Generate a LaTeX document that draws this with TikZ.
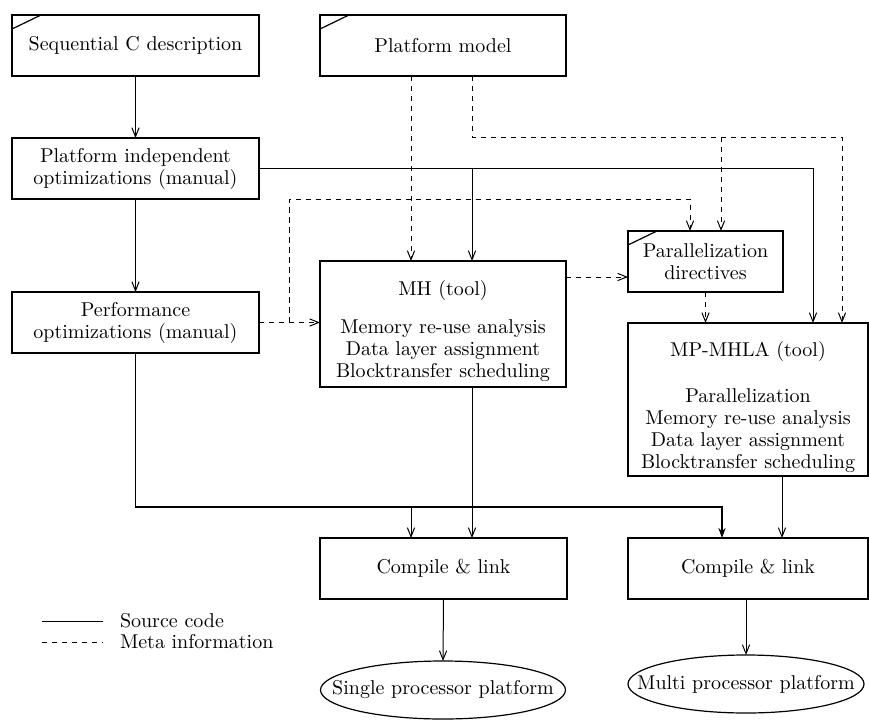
\documentclass[tikz,border=0pt]{standalone}
\usetikzlibrary{arrows.meta}
\begin{document}
\begin{tikzpicture}[x=0.5pt,y=-0.5pt,
  every node/.style={font=\fontsize{10}{11}\selectfont, align=center, inner sep=0pt, outer sep=0pt},
  box/.style={draw, line width=0.6pt, rectangle, minimum height=30.5pt},
  src/.style={line width=0.5pt, -{Straight Barb[length=4.5pt,width=3.6pt]}},
  meta/.style={line width=0.5pt, dash pattern=on 2.6pt off 2.4pt, -{Straight Barb[length=4.5pt,width=3.6pt]}},
  bus/.style={line width=0.85pt, -{Stealth[length=5pt,width=3.6pt]}},
  plain/.style={draw=none, rectangle},
  fileMark/.style={line width=0.6pt}
]
\useasboundingbox (0,0) rectangle (869,719);

% ---------- boxes ----------
\node[box, minimum width=123.5pt] (seq)  at (135.5,45.5)  {Sequential C description};
\node[box, minimum width=123pt]   (pm)   at (443,45.5)    {Platform model};
\node[box, minimum width=123.5pt] (pio)  at (135.5,168.5) {Platform independent\\optimizations (manual)};
\node[box, minimum width=123.5pt] (perf) at (135.5,322.5) {Performance\\optimizations (manual)};
\node[box, minimum width=123pt, minimum height=63pt] (mh) at (443,324)
  {\rule{0pt}{14.5pt}MH (tool)\\[8pt]Memory re-use analysis\\Data layer assignment\\Blocktransfer scheduling};
\node[box, minimum width=77.5pt]  (pd)   at (705.5,261.5) {Parallelization\\directives};
\node[box, minimum width=120pt, minimum height=76.5pt] (mp) at (748,399.5)
  {\rule{0pt}{15pt}MP-MHLA (tool)\\[12pt]Parallelization\\Memory re-use analysis\\Data layer assignment\\Blocktransfer scheduling};
\node[box, minimum width=123.5pt] (cl1)  at (443.5,568.5) {Compile \& link};
\node[box, minimum width=120pt]   (cl2)  at (748,568.5)   {Compile \& link};

% ---------- platforms ----------
\node[plain, minimum width=122.5pt, minimum height=29pt] (ell1) at (443,690) {Single processor platform};
\node[plain, minimum width=118pt, minimum height=29pt]   (ell2) at (746,684) {Multi processor platform};
\draw[line width=0.6pt] (ell1.center) ellipse [x radius=61.25pt, y radius=14.5pt];
\draw[line width=0.6pt] (ell2.center) ellipse [x radius=59pt, y radius=14.5pt];

% ---------- file marks on input boxes ----------
\foreach \n in {seq,pm,pd}
  \draw[fileMark] ([yshift=-7pt]\n.north west) -- ([xshift=14.5pt]\n.north west);

% ---------- routing columns and rows ----------
\coordinate (c1) at (411,0);
\coordinate (c2) at (472,0);
\coordinate (c3) at (813,0);
\coordinate (c4) at (842,0);
\coordinate (c5) at (721,0);
\coordinate (c6) at (690,0);
\coordinate (c7) at (289,0);
\coordinate (c8) at (722,0);
\coordinate (c9) at (782,0);
\coordinate (rA) at (0,137);
\coordinate (rB) at (0,199);
\coordinate (rC) at (0,277);
\coordinate (rD) at (0,507);

% ---------- source code flow ----------
\draw[src] (seq) -- (pio);
\draw[src] (pio) -- (perf);
\draw[src] (pio.east) -| (mp.north -| c3);
\draw[src] (c2 |- pio.east) -- (mh.north -| c2);
\draw[bus] (perf.south) |- (c8 |- rD) -- (cl2.north -| c8);
\draw[src] (c1 |- rD) -- (cl1.north -| c1);
\draw[src] (mh.south -| c2) -- (cl1.north -| c2);
\draw[src] (mp.south -| c9) -- (cl2.north -| c9);
\draw[src] (cl1.south) -- (ell1.north);
\draw[src] (cl2.south -| ell2.north) -- (ell2.north);

% ---------- meta information flow ----------
\draw[meta] (pm.south -| c1) -- (mh.north -| c1);
\draw[meta] (pm.south -| c2) -- (c2 |- rA) -| (mp.north -| c4);
\draw[meta] (c5 |- rA) -- (pd.north -| c5);
\draw[meta] (perf.east) -- (mh.west |- perf.east);
\draw[meta] (c7 |- perf.east) -- (c7 |- rB) -| (pd.north -| c6);
\draw[meta] (mh.east |- rC) -- (pd.west |- rC);
\draw[meta] (pd.south) -- (pd.south |- mp.north);

% ---------- legend ----------
\coordinate (lgA) at (42,621);
\coordinate (lgB) at (103,621);
\coordinate (lgC) at (42,642);
\coordinate (lgD) at (103,642);
\draw[line width=0.5pt] (lgA) -- (lgB);
\draw[line width=0.5pt, dash pattern=on 2.6pt off 2.4pt] (lgC) -- (lgD);
\node[anchor=west] (lgSrc)  at (120,621) {Source code};
\node[anchor=west] (lgMeta) at (120,642) {Meta information};
\end{tikzpicture}
\end{document}
